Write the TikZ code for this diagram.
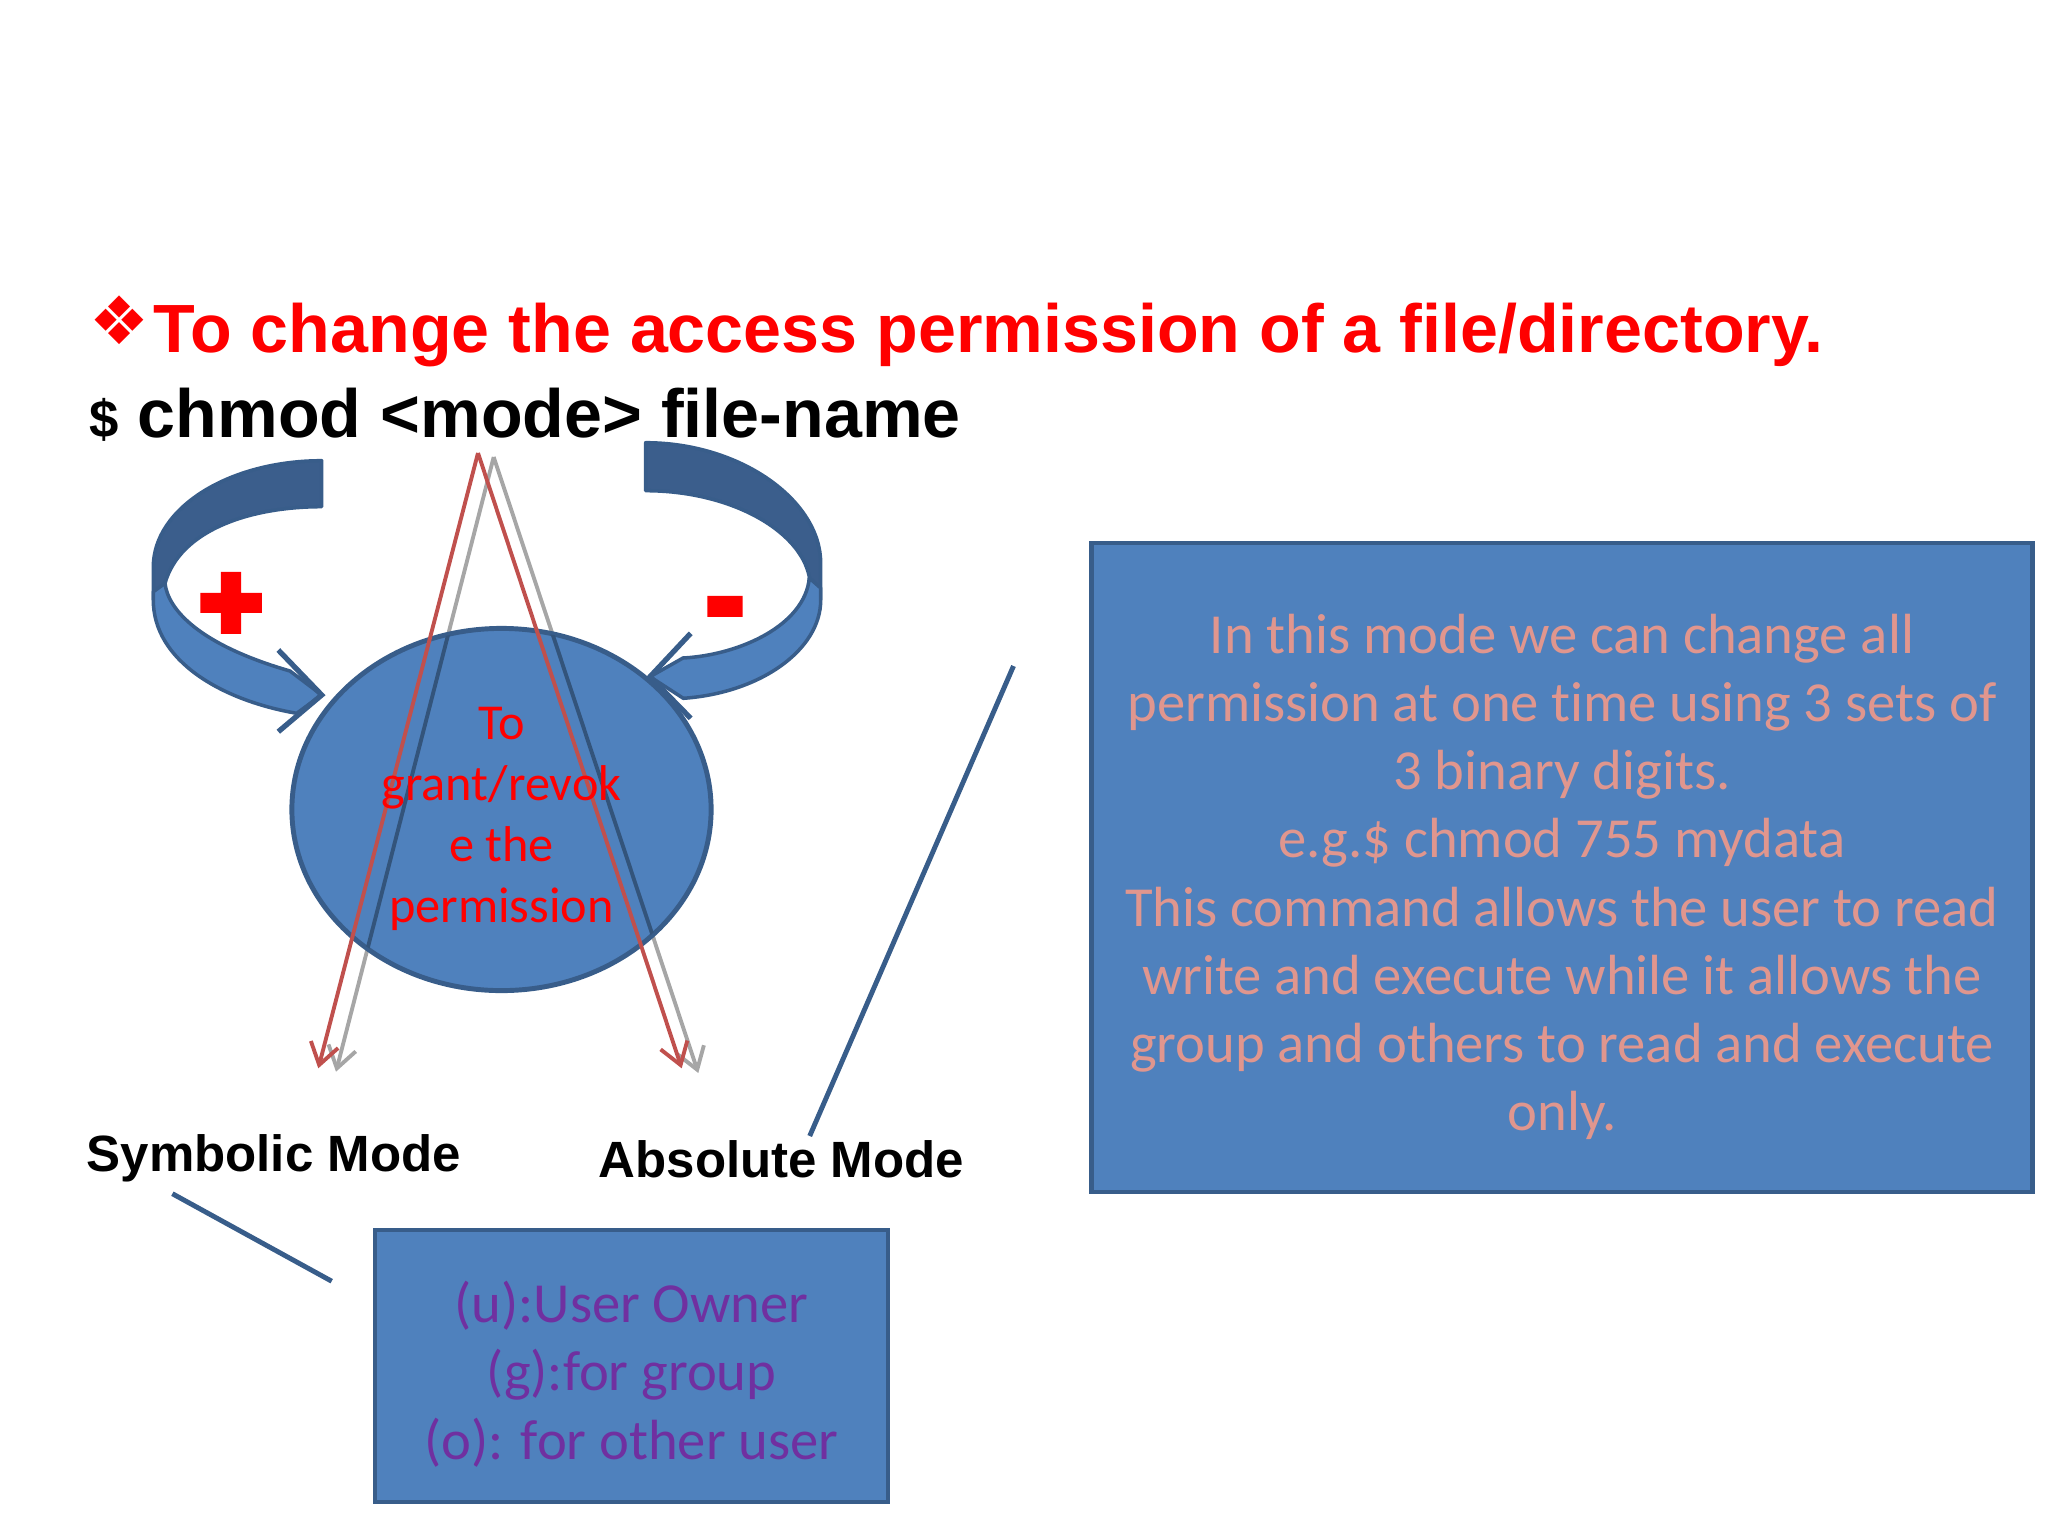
\documentclass[tikz,border=0pt]{standalone}
\usepackage{fontspec}
\setmainfont{Liberation Sans}
\newfontfamily\calibri{Carlito}[Ligatures=NoCommon]
\newfontfamily\dingfont{DejaVu Sans}
\newfontfamily\heavysign{Liberation Sans}[BoldFeatures={FakeBold=8}]
\usetikzlibrary{arrows.meta,positioning,shapes.geometric}
\definecolor{shapefill}{HTML}{4F81BD}
\definecolor{shapeedge}{HTML}{385D8A}
\definecolor{backband}{HTML}{3B5E8C}
\definecolor{redline}{HTML}{C0504D}
\definecolor{greyline}{HTML}{A6A6A6}
\definecolor{shadeline}{HTML}{33547B}
\definecolor{salmon}{HTML}{E0968E}
\definecolor{plum}{HTML}{7030A0}
\tikzset{
  panel/.style={rectangle, fill=shapefill, draw=shapeedge, line width=1.3pt, inner sep=0pt},
  paneltext/.style={align=center, inner sep=0pt, font=\calibri\fontsize{16.1}{19.4}\selectfont},
  band/.style={fill=shapefill, draw=shapeedge, line width=1pt, line join=round},
  backside/.style={fill=backband, draw=shapeedge, line width=1pt, line join=round},
  barb/.style={draw=shapeedge, line width=1.5pt},
  pointer/.style={-{Straight Barb[length=6pt,width=8pt]}, line width=1.1pt},
  modelabel/.style={font=\bfseries\fontsize{14.5}{17}\selectfont, anchor=base west, inner sep=0pt},
  sign/.style={red, font=\heavysign\bfseries\fontsize{30}{30}\selectfont, inner sep=0pt},
  leader/.style={draw=shapeedge, line width=1.4pt},
}

\begin{document}
\begin{tikzpicture}[x=0.01cm, y=-0.01cm]
  \useasboundingbox (0,0) rectangle (2048,1536);
  % heading and command
  \node[red, inner sep=0pt, font=\dingfont\fontsize{19}{19}\selectfont] (bullet) at (119,320) {❖};
  \node[red, anchor=base west, inner sep=0pt, font=\bfseries\fontsize{19.4}{23}\selectfont] (title) at (153,352) {To change the access permission of a file/directory.};
  \node[anchor=base west, inner sep=0pt, font=\bfseries\fontsize{19.4}{23}\selectfont] (cmd) at (89,437) {{\fontsize{15}{15}\selectfont\$} chmod <mode> file-name};
  % curved arrow on the + side
  \path[backside] (321.7,460.7) .. controls (229,460.7) and (153.3,508) .. (153.3,567) -- (153.3,600) -- (165,600) -- (165,583.3) .. controls (180,530) and (250,506.7) .. (321.7,506.7) -- cycle;
  \path[band] (153.3,591.7) -- (165,583.3) .. controls (168,610) and (200,645) .. (290,671) -- (321.7,695) -- (296.7,713.3) .. controls (220,700) and (153.3,660) .. (153.3,600) -- cycle;
  \draw[barb] (278.3,650) -- (321.7,695) -- (278.3,731.7);
  % curved arrow on the - side
  \path[backside] (645.7,442.7) .. controls (740,442.7) and (820.7,500) .. (820.7,563.3) -- (820.7,600) -- (809.3,600) -- (809.3,576.7) .. controls (800,530) and (730,490.7) .. (645.7,490.7) -- cycle;
  \path[band] (820.7,588) -- (809.3,578) .. controls (805,625) and (740,655) .. (683,658) -- (650,676.7) -- (683.3,698.3) .. controls (760,693) and (820.7,650) .. (820.7,600) -- cycle;
  \draw[barb] (690.7,633.3) -- (650,676.7) -- (690.7,718.3);
  \node[sign] (plus) at (231,607) {+};
  \node[sign] (minus) at (725,617) {-};
  % crossing pointers and the central ellipse
  \coordinate (redapex) at (478,453);
  \coordinate (greyapex) at (493.7,457);
  \coordinate (redleft) at (318.3,1068.3);
  \coordinate (redright) at (681.7,1068.3);
  \coordinate (greyleft) at (336,1071.7);
  \coordinate (greyright) at (698.3,1073);
  \foreach \tip in {greyleft,greyright} \draw[pointer, greyline] (greyapex) -- (\tip);
  \node[ellipse, fill=shapefill, draw=shapeedge, line width=1.4pt, minimum width=4.19cm, minimum height=3.62cm, inner sep=0pt] (core) at (501.5,809.5) {};
  \begin{scope}
    \clip (501.5,809.5) ellipse [x radius=2.08cm, y radius=1.8cm];
    \foreach \tip in {greyleft,greyright} \draw[shadeline, line width=1.1pt] (greyapex) -- (\tip);
  \end{scope}
  \foreach \tip in {redleft,redright} \draw[pointer, redline] (redapex) -- (\tip);
  \node[red, align=center, inner sep=0pt, font=\calibri\fontsize{14.3}{17.4}\selectfont] (coretext) at (501.5,819) {To\\grant/revok\\e the\\permission};
  % mode labels and their boxes
  \node[modelabel] (symlabel) at (86,1171) {Symbolic Mode};
  \node[modelabel] (abslabel) at (598,1177) {Absolute Mode};
  \node[panel, minimum width=9.4cm, minimum height=6.49cm] (absbox) at (1562,867.5) {};
  \node[paneltext, text=salmon] (abstext) at (1562,877) {In this mode we can change all\\permission at one time using 3 sets of\\3 binary digits.\\e.g.\$ chmod 755 mydata\\This command allows the user to read\\write and execute while it allows the\\group and others to read and execute\\only.};
  \node[panel, minimum width=5.13cm, minimum height=2.72cm] (symbox) at (631.5,1366) {};
  \node[paneltext, text=plum] (symtext) at (631.5,1374) {(u):User Owner\\(g):for group\\(o): for other user};
  \coordinate (symfoot) at (172.4,1193.7);
  \coordinate (symtip) at (331.7,1281.2);
  \coordinate (absfoot) at (809.7,1136);
  \coordinate (abstip) at (1013.5,666);
  \draw[leader] (symfoot) -- (symtip);
  \draw[leader] (absfoot) -- (abstip);
\end{tikzpicture}
\end{document}
